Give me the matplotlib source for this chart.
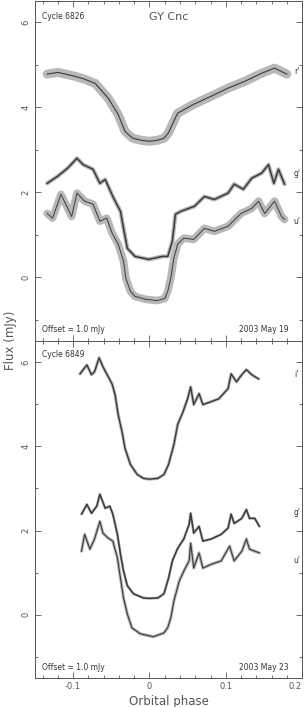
import numpy as np
import matplotlib.pyplot as plt
from matplotlib.ticker import MultipleLocator

# ---- top panel (Cycle 6826, 2003 May 19) ----
ph_r1 = [-0.134, -0.120, -0.098, -0.085, -0.071, -0.054, -0.041, -0.032, -0.022, -0.010,
         0.000, 0.010, 0.019, 0.025, 0.030, 0.037, 0.058, 0.081, 0.103, 0.125, 0.147, 0.164, 0.172, 0.180]
fx_r1 = [4.78, 4.82, 4.73, 4.66, 4.56, 4.21, 3.83, 3.43, 3.27, 3.22,
         3.20, 3.22, 3.27, 3.40, 3.60, 3.86, 4.07, 4.26, 4.45, 4.61, 4.80, 4.92, 4.85, 4.78]

ph_g1 = [-0.134, -0.120, -0.107, -0.095, -0.087, -0.074, -0.065, -0.058, -0.048, -0.038,
         -0.034, -0.029, -0.019, -0.001, 0.017, 0.024, 0.030, 0.034, 0.041, 0.059,
         0.072, 0.085, 0.103, 0.111, 0.123, 0.134, 0.147, 0.156, 0.163, 0.169, 0.177]
fx_g1 = [2.21, 2.38, 2.57, 2.80, 2.65, 2.54, 2.21, 2.30, 1.90, 1.55,
         1.15, 0.68, 0.49, 0.42, 0.49, 0.49, 0.85, 1.48, 1.55, 1.67,
         1.90, 1.83, 1.98, 2.19, 2.07, 2.33, 2.45, 2.65, 2.21, 2.54, 2.19]

ph_u1 = [-0.134, -0.127, -0.116, -0.107, -0.102, -0.095, -0.085, -0.074, -0.065, -0.056,
         -0.049, -0.041, -0.034, -0.031, -0.025, -0.019, -0.005, 0.010, 0.020, 0.024,
         0.028, 0.032, 0.037, 0.045, 0.058, 0.072, 0.085, 0.103, 0.120, 0.134,
         0.143, 0.151, 0.164, 0.173, 0.177]
fx_u1 = [1.50, 1.39, 1.95, 1.62, 1.43, 1.98, 1.79, 1.72, 1.32, 1.39,
         1.04, 0.78, 0.38, -0.02, -0.33, -0.45, -0.52, -0.55, -0.50, -0.33,
         -0.02, 0.45, 0.78, 0.92, 0.89, 1.15, 1.08, 1.20, 1.50, 1.62,
         1.79, 1.50, 1.79, 1.43, 1.36]

# ---- bottom panel (Cycle 6849, 2003 May 23) ----
ph_i2 = [-0.091, -0.082, -0.076, -0.072, -0.066, -0.061, -0.054, -0.049, -0.045, -0.041,
         -0.036, -0.032, -0.025, -0.016, -0.008, 0.000, 0.011, 0.019, 0.025, 0.032,
         0.037, 0.044, 0.050, 0.054, 0.058, 0.065, 0.070, 0.081, 0.091, 0.103,
         0.107, 0.114, 0.121, 0.127, 0.134, 0.143]
fx_i2 = [5.72, 5.93, 5.70, 5.77, 6.10, 5.89, 5.65, 5.48, 5.22, 4.75,
         4.35, 3.95, 3.57, 3.33, 3.24, 3.22, 3.24, 3.33, 3.57, 4.04,
         4.52, 4.82, 5.13, 5.41, 4.99, 5.25, 4.99, 5.06, 5.13, 5.37,
         5.72, 5.53, 5.70, 5.82, 5.70, 5.60]

ph_g2 = [-0.089, -0.082, -0.076, -0.069, -0.065, -0.058, -0.052, -0.048, -0.042, -0.038,
         -0.034, -0.029, -0.021, -0.008, 0.000, 0.011, 0.019, 0.025, 0.030, 0.037,
         0.045, 0.052, 0.054, 0.058, 0.065, 0.070, 0.081, 0.094, 0.103, 0.107,
         0.111, 0.121, 0.127, 0.131, 0.138, 0.144]
fx_g2 = [2.39, 2.62, 2.41, 2.58, 2.86, 2.53, 2.58, 2.39, 1.91, 1.44,
         1.04, 0.69, 0.50, 0.40, 0.39, 0.40, 0.50, 0.87, 1.28, 1.58,
         1.80, 2.15, 2.41, 1.94, 2.10, 1.75, 1.80, 1.91, 2.06, 2.39,
         2.17, 2.29, 2.50, 2.29, 2.29, 2.10]

ph_u2 = [-0.089, -0.085, -0.078, -0.072, -0.065, -0.061, -0.054, -0.048, -0.042, -0.038,
         -0.034, -0.029, -0.023, -0.012, 0.005, 0.019, 0.024, 0.028, 0.032, 0.039,
         0.045, 0.052, 0.054, 0.058, 0.065, 0.070, 0.081, 0.094, 0.105, 0.111,
         0.121, 0.127, 0.131, 0.138, 0.144]
fx_u2 = [1.51, 1.91, 1.56, 1.80, 2.22, 1.94, 1.82, 1.75, 1.35, 0.87,
         0.40, 0.02, -0.31, -0.45, -0.52, -0.43, -0.30, -0.07, 0.33, 0.80,
         1.04, 1.28, 1.70, 1.11, 1.47, 1.11, 1.20, 1.28, 1.63, 1.28,
         1.51, 1.80, 1.56, 1.51, 1.47]

grey = '#555555'
plt.rcParams['font.family'] = 'DejaVu Sans'

fig = plt.figure(figsize=(3.07, 7.07), dpi=100)
ax1 = fig.add_axes([0.114, 0.5177, 0.870, 0.4809])
ax2 = fig.add_axes([0.114, 0.041, 0.870, 0.4767], sharex=ax1)


def curve(ax, x, y, band, core):
    # light halo mimics the scatter of the individual points
    ax.plot(x, y, color='#b8b8b8', lw=band, solid_capstyle='round', solid_joinstyle='round')
    ax.plot(x, y, color='#3a3a3a', lw=core, solid_joinstyle='round')


curve(ax1, ph_r1, fx_r1, 6.5, 0.8)
curve(ax1, ph_g1, fx_g1, 3.0, 1.1)
curve(ax1, ph_u1, fx_u1, 5.5, 0.7)

curve(ax2, ph_i2, fx_i2, 2.3, 1.0)
curve(ax2, ph_g2, fx_g2, 2.0, 1.1)
curve(ax2, ph_u2, fx_u2, 2.3, 0.8)

for ax in (ax1, ax2):
    ax.set_xlim(-0.15, 0.2)
    ax.set_ylim(-1.5, 6.5)
    ax.xaxis.set_major_locator(MultipleLocator(0.1))
    ax.xaxis.set_minor_locator(MultipleLocator(0.02))
    ax.yaxis.set_major_locator(MultipleLocator(2))
    ax.yaxis.set_minor_locator(MultipleLocator(1))
    ax.tick_params(which='both', direction='in', top=True, right=True,
                   color=grey, width=0.6, labelsize=6, labelcolor=grey, pad=3)
    ax.tick_params(which='major', length=4)
    ax.tick_params(which='minor', length=2)
    for lab in ax.get_yticklabels():
        lab.set_rotation(90)
        lab.set_va('center')
    for s in ax.spines.values():
        s.set_color(grey)
        s.set_linewidth(0.7)

ax1.tick_params(labelbottom=False)
ax2.xaxis.set_major_formatter(plt.FuncFormatter(lambda v, p: '0' if abs(v) < 1e-9 else f'{v:g}'))
fig.canvas.draw()
xl = ax2.get_xticklabels()
for lab in xl:
    if lab.get_text() == '0.2':
        lab.set_ha('right')

tk = dict(fontsize=5.5, color='#333333')
ax1.text(0.026, 0.953, 'Cycle 6826', transform=ax1.transAxes, ha='left', va='center', **tk)
ax1.text(0.5, 0.953, 'GY Cnc', transform=ax1.transAxes, ha='center', va='center',
         fontsize=8, color=grey)
ax1.text(0.026, 0.035, 'Offset = 1.0 mJy', transform=ax1.transAxes, ha='left', va='center', **tk)
ax1.text(0.95, 0.035, '2003 May 19', transform=ax1.transAxes, ha='right', va='center', **tk)
ax1.text(0.193, 4.85, "r'", ha='center', va='center', **tk)
ax1.text(0.193, 2.45, "g'", ha='center', va='center', **tk)
ax1.text(0.193, 1.30, "u'", ha='center', va='center', **tk)

ax2.text(0.026, 0.961, 'Cycle 6849', transform=ax2.transAxes, ha='left', va='center', **tk)
ax2.text(0.026, 0.03, 'Offset = 1.0 mJy', transform=ax2.transAxes, ha='left', va='center', **tk)
ax2.text(0.95, 0.03, '2003 May 23', transform=ax2.transAxes, ha='right', va='center', **tk)
ax2.text(0.193, 5.70, "i'", ha='center', va='center', **tk)
ax2.text(0.193, 2.43, "g'", ha='center', va='center', **tk)
ax2.text(0.193, 1.28, "u'", ha='center', va='center', **tk)

fig.text(0.033, 0.518, 'Flux (mJy)', rotation=90, ha='center', va='center',
         fontsize=8.5, color=grey)
ax2.set_xlabel('Orbital phase', fontsize=8.5, color=grey, labelpad=3)

fig.savefig('out.png', dpi=100)
